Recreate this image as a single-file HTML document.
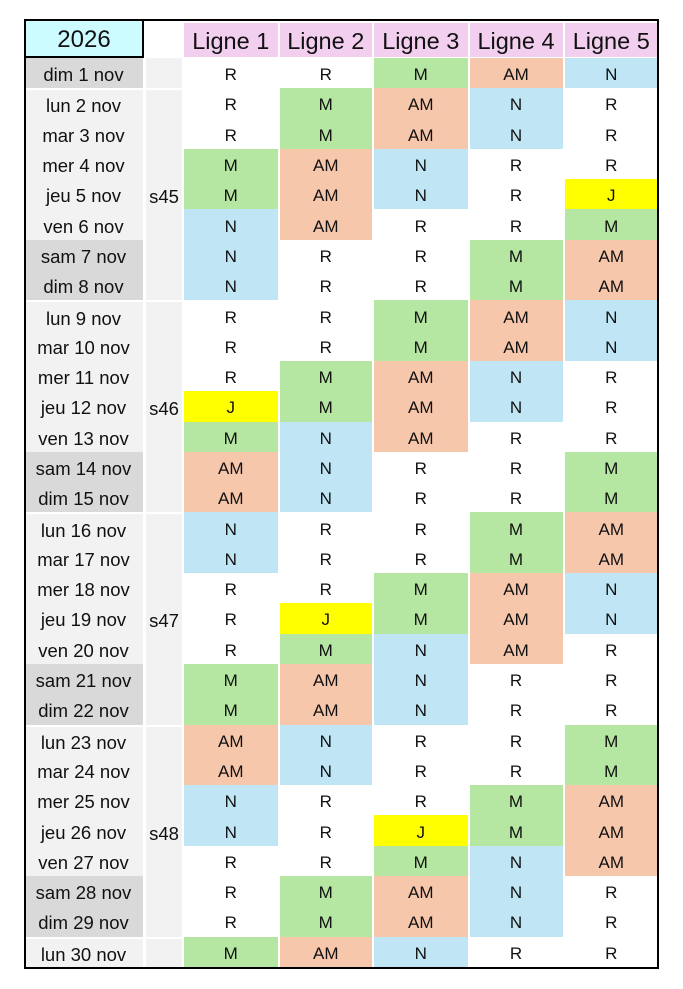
<!DOCTYPE html>
<html><head><meta charset="utf-8">
<style>
html,body{margin:0;padding:0;background:#fff;}
body{width:683px;height:989px;position:relative;overflow:hidden;font-family:"Liberation Sans",Arial,sans-serif;color:#111;}
.g{position:absolute;left:24px;top:19px;width:635px;height:948px;display:grid;
grid-template-columns:120px 39px 95.5px 94.5px 95.5px 95px 95.5px;
grid-template-rows:39px repeat(30,30.3px);}
.g>div{box-sizing:border-box;display:flex;align-items:center;justify-content:center;white-space:nowrap;}
.hy{background:#ccfcff;font-size:24px;padding-top:3px;}
.hw{background:#fff;}
.hl{background:#f2ceef;font-size:23.5px;border-top:4px solid #fff;border-bottom:1px solid #fff;border-left:1.5px solid #fff;border-right:1.5px solid #fff;padding-top:2px;}
.d{background:#f2f2f2;font-size:18.5px;border-right:1.5px solid #fff;padding-top:4px;}
.e{background:#d9d9d9;}
.t{border-top:2px solid #fff;}
.w{grid-column:2;background:#f2f2f2;font-size:18.5px;border-left:2px solid #fff;border-right:1.5px solid #fff;padding-top:4px;}
.c{font-size:17px;border-left:1.5px solid #fff;border-right:1.5px solid #fff;padding-top:4px;}
.R{background:#fff;}
.M{background:#b5e6a2;}
.A{background:#f7c7ac;}
.N{background:#c0e6f5;}
.J{background:#ffff00;}
.b{position:absolute;background:#000;}
</style></head><body>
<div class="g">
<div class="hy">2026</div><div class="hw" style="grid-column:2"></div><div class="hl">Ligne 1</div><div class="hl">Ligne 2</div><div class="hl">Ligne 3</div><div class="hl">Ligne 4</div><div class="hl">Ligne 5</div>

<div class="w" style="grid-row:2"></div>
<div class="w t" style="grid-row:3/10">s45</div>
<div class="w t" style="grid-row:10/17">s46</div>
<div class="w t" style="grid-row:17/24">s47</div>
<div class="w t" style="grid-row:24/31">s48</div>
<div class="w t" style="grid-row:31"></div>

<div class="d e" style="grid-column:1;grid-row:2">dim 1 nov</div><div class="c R" style="grid-row:2">R</div><div class="c R" style="grid-row:2">R</div><div class="c M" style="grid-row:2">M</div><div class="c A" style="grid-row:2">AM</div><div class="c N" style="grid-row:2">N</div>

<div class="d t" style="grid-column:1">lun 2 nov</div><div class="c R">R</div><div class="c M">M</div><div class="c A">AM</div><div class="c N">N</div><div class="c R">R</div>
<div class="d" style="grid-column:1">mar 3 nov</div><div class="c R">R</div><div class="c M">M</div><div class="c A">AM</div><div class="c N">N</div><div class="c R">R</div>
<div class="d" style="grid-column:1">mer 4 nov</div><div class="c M">M</div><div class="c A">AM</div><div class="c N">N</div><div class="c R">R</div><div class="c R">R</div>
<div class="d" style="grid-column:1">jeu 5 nov</div><div class="c M">M</div><div class="c A">AM</div><div class="c N">N</div><div class="c R">R</div><div class="c J">J</div>
<div class="d" style="grid-column:1">ven 6 nov</div><div class="c N">N</div><div class="c A">AM</div><div class="c R">R</div><div class="c R">R</div><div class="c M">M</div>
<div class="d e" style="grid-column:1">sam 7 nov</div><div class="c N">N</div><div class="c R">R</div><div class="c R">R</div><div class="c M">M</div><div class="c A">AM</div>
<div class="d e" style="grid-column:1">dim 8 nov</div><div class="c N">N</div><div class="c R">R</div><div class="c R">R</div><div class="c M">M</div><div class="c A">AM</div>

<div class="d t" style="grid-column:1">lun 9 nov</div><div class="c R">R</div><div class="c R">R</div><div class="c M">M</div><div class="c A">AM</div><div class="c N">N</div>
<div class="d" style="grid-column:1">mar 10 nov</div><div class="c R">R</div><div class="c R">R</div><div class="c M">M</div><div class="c A">AM</div><div class="c N">N</div>
<div class="d" style="grid-column:1">mer 11 nov</div><div class="c R">R</div><div class="c M">M</div><div class="c A">AM</div><div class="c N">N</div><div class="c R">R</div>
<div class="d" style="grid-column:1">jeu 12 nov</div><div class="c J">J</div><div class="c M">M</div><div class="c A">AM</div><div class="c N">N</div><div class="c R">R</div>
<div class="d" style="grid-column:1">ven 13 nov</div><div class="c M">M</div><div class="c N">N</div><div class="c A">AM</div><div class="c R">R</div><div class="c R">R</div>
<div class="d e" style="grid-column:1">sam 14 nov</div><div class="c A">AM</div><div class="c N">N</div><div class="c R">R</div><div class="c R">R</div><div class="c M">M</div>
<div class="d e" style="grid-column:1">dim 15 nov</div><div class="c A">AM</div><div class="c N">N</div><div class="c R">R</div><div class="c R">R</div><div class="c M">M</div>

<div class="d t" style="grid-column:1">lun 16 nov</div><div class="c N">N</div><div class="c R">R</div><div class="c R">R</div><div class="c M">M</div><div class="c A">AM</div>
<div class="d" style="grid-column:1">mar 17 nov</div><div class="c N">N</div><div class="c R">R</div><div class="c R">R</div><div class="c M">M</div><div class="c A">AM</div>
<div class="d" style="grid-column:1">mer 18 nov</div><div class="c R">R</div><div class="c R">R</div><div class="c M">M</div><div class="c A">AM</div><div class="c N">N</div>
<div class="d" style="grid-column:1">jeu 19 nov</div><div class="c R">R</div><div class="c J">J</div><div class="c M">M</div><div class="c A">AM</div><div class="c N">N</div>
<div class="d" style="grid-column:1">ven 20 nov</div><div class="c R">R</div><div class="c M">M</div><div class="c N">N</div><div class="c A">AM</div><div class="c R">R</div>
<div class="d e" style="grid-column:1">sam 21 nov</div><div class="c M">M</div><div class="c A">AM</div><div class="c N">N</div><div class="c R">R</div><div class="c R">R</div>
<div class="d e" style="grid-column:1">dim 22 nov</div><div class="c M">M</div><div class="c A">AM</div><div class="c N">N</div><div class="c R">R</div><div class="c R">R</div>

<div class="d t" style="grid-column:1">lun 23 nov</div><div class="c A">AM</div><div class="c N">N</div><div class="c R">R</div><div class="c R">R</div><div class="c M">M</div>
<div class="d" style="grid-column:1">mar 24 nov</div><div class="c A">AM</div><div class="c N">N</div><div class="c R">R</div><div class="c R">R</div><div class="c M">M</div>
<div class="d" style="grid-column:1">mer 25 nov</div><div class="c N">N</div><div class="c R">R</div><div class="c R">R</div><div class="c M">M</div><div class="c A">AM</div>
<div class="d" style="grid-column:1">jeu 26 nov</div><div class="c N">N</div><div class="c R">R</div><div class="c J">J</div><div class="c M">M</div><div class="c A">AM</div>
<div class="d" style="grid-column:1">ven 27 nov</div><div class="c R">R</div><div class="c R">R</div><div class="c M">M</div><div class="c N">N</div><div class="c A">AM</div>
<div class="d e" style="grid-column:1">sam 28 nov</div><div class="c R">R</div><div class="c M">M</div><div class="c A">AM</div><div class="c N">N</div><div class="c R">R</div>
<div class="d e" style="grid-column:1">dim 29 nov</div><div class="c R">R</div><div class="c M">M</div><div class="c A">AM</div><div class="c N">N</div><div class="c R">R</div>

<div class="d t" style="grid-column:1">lun 30 nov</div><div class="c M">M</div><div class="c A">AM</div><div class="c N">N</div><div class="c R">R</div><div class="c R">R</div>
</div>

<!-- borders -->
<div class="b" style="left:24px;top:19px;width:635px;height:2px"></div>
<div class="b" style="left:24px;top:19px;width:2px;height:950px"></div>
<div class="b" style="left:657px;top:19px;width:2px;height:950px"></div>
<div class="b" style="left:24px;top:967px;width:635px;height:2px"></div>
<div class="b" style="left:142px;top:19px;width:2px;height:39px"></div>
<div class="b" style="left:24px;top:56px;width:120px;height:2px"></div>
</body></html>
